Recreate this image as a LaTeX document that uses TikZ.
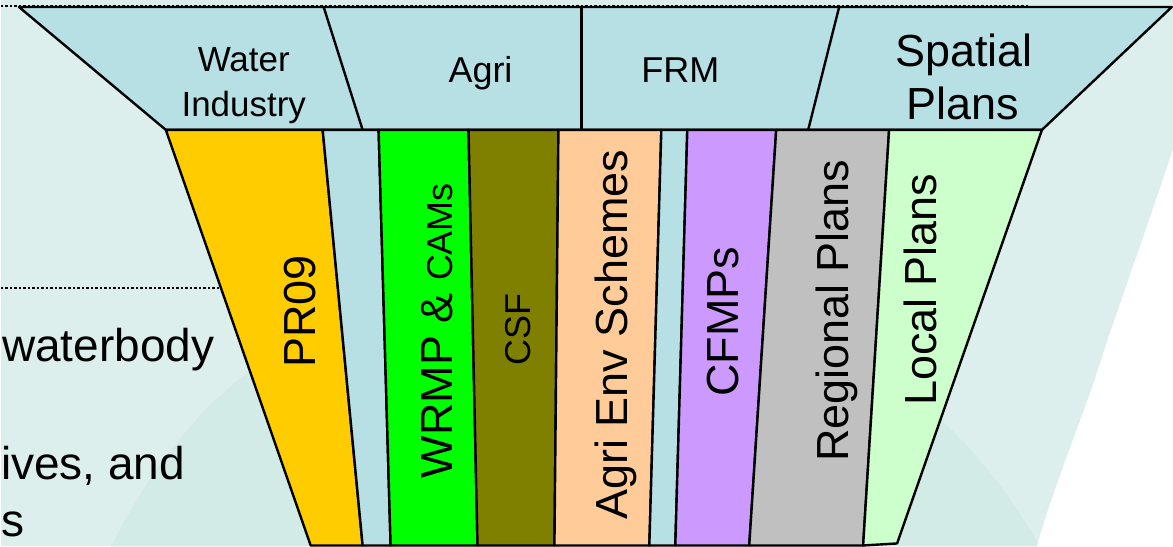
\documentclass[tikz,border=0pt]{standalone}
\usepackage{fontspec}
\setmainfont{Liberation Sans}
\usetikzlibrary{positioning}

\definecolor{slidebg}{RGB}{221,239,236}
\definecolor{slidedeep}{RGB}{211,235,231}
\definecolor{bandblue}{RGB}{182,224,228}
\definecolor{prorange}{RGB}{255,204,0}
\definecolor{wrmpgreen}{RGB}{0,255,0}
\definecolor{csfolive}{RGB}{128,128,0}
\definecolor{agripeach}{RGB}{255,204,153}
\definecolor{cfmppurple}{RGB}{204,153,255}
\definecolor{regiongray}{RGB}{192,192,192}
\definecolor{localgreen}{RGB}{204,255,204}

\begin{document}
\begin{tikzpicture}[x=1pt,y=-1pt,
    strip/.style={draw=black, line width=2.4pt, line join=round},
    sep/.style={black, line width=2pt, dash pattern=on 2.5pt off 2pt},
    vlab/.style={rotate=90, anchor=base, inner sep=0pt, font=\fontsize{45}{54}\selectfont},
    hlab/.style={anchor=base, inner sep=0pt}]

% slide background
\fill[slidebg] (0,0) rectangle (1173,547);
\fill[slidedeep] (110,547) .. controls (160,450) and (220,380) .. (300,340)
      .. controls (600,200) and (900,300) .. (1040,547) -- cycle;
\fill[white] (1173,150) .. controls (1140,250) and (1110,330) .. (1095,380)
      .. controls (1070,450) and (1050,500) .. (1037,547) -- (1173,547) -- cycle;
\draw[sep] (0,6) -- (1030,6);
\draw[sep] (0,288) -- (220,288);

% left hand text, cut off by the slide
\node[hlab, anchor=base west, font=\fontsize{46}{55}\selectfont] (wb) at (1,362) {waterbody};
\node[hlab, anchor=base west, font=\fontsize{46}{55}\selectfont] (obj) at (0,480) {ives, and};
\node[hlab, anchor=base west, font=\fontsize{46}{55}\selectfont] (tail) at (0,537) {s};

% top band of sectors
\filldraw[strip, fill=bandblue] (18,7) -- (1172,7) -- (1042,130) -- (165,130) -- cycle;
\draw[strip] (323,7) -- (362,130);
\draw[strip] (581,7) -- (581,130);
\draw[strip] (839,7) -- (808,130);

% plan strips
\filldraw[strip, fill=prorange]   (165,130) -- (322,130) -- (362,546) -- (310,546) -- cycle;
\filldraw[strip, fill=bandblue]   (322,130) -- (378,130) -- (390,546) -- (362,546) -- cycle;
\filldraw[strip, fill=wrmpgreen]  (378,130) -- (468,130) -- (477,546) -- (390,546) -- cycle;
\filldraw[strip, fill=csfolive]   (468,130) -- (558,130) -- (554,546) -- (477,546) -- cycle;
\filldraw[strip, fill=agripeach]  (558,130) -- (661,130) -- (649,546) -- (554,546) -- cycle;
\filldraw[strip, fill=bandblue]   (661,130) -- (687,130) -- (675,546) -- (649,546) -- cycle;
\filldraw[strip, fill=cfmppurple] (687,130) -- (776,130) -- (749,546) -- (675,546) -- cycle;
\filldraw[strip, fill=regiongray] (776,130) -- (889,130) -- (863,546) -- (749,546) -- cycle;
\filldraw[strip, fill=localgreen] (889,130) -- (1042,130) -- (897,544) -- (863,546) -- cycle;

% sector labels
\node[hlab, font=\fontsize{35}{42}\selectfont] (water) at (243,72) {Water};
\node[hlab, font=\fontsize{35}{42}\selectfont] (industry) at (243,117) {Industry};
\node[hlab, font=\fontsize{36}{43}\selectfont] (agri) at (480,83) {Agri};
\node[hlab, font=\fontsize{36}{43}\selectfont] (frm) at (680,83) {FRM};
\node[hlab, font=\fontsize{45}{54}\selectfont] (spatial) at (964,67) {Spatial};
\node[hlab, font=\fontsize{45}{54}\selectfont] (plans) at (963,120) {Plans};

% plan labels
\node[vlab] (pr) at (315,312) {PR09};
\node[vlab] (wrmp) at (452,331) {WRMP \& {\fontsize{36}{43}\selectfont CAMs}};
\node[vlab, font=\fontsize{36}{43}\selectfont] (csf) at (530,330) {CSF};
\node[vlab] (aes) at (627,335) {Agri Env Schemes};
\node[vlab] (cfmp) at (738,322) {CFMPs};
\node[vlab] (reg) at (848,311) {Regional Plans};
\node[vlab] (loc) at (936,290) {Local Plans};

\end{tikzpicture}
\end{document}
